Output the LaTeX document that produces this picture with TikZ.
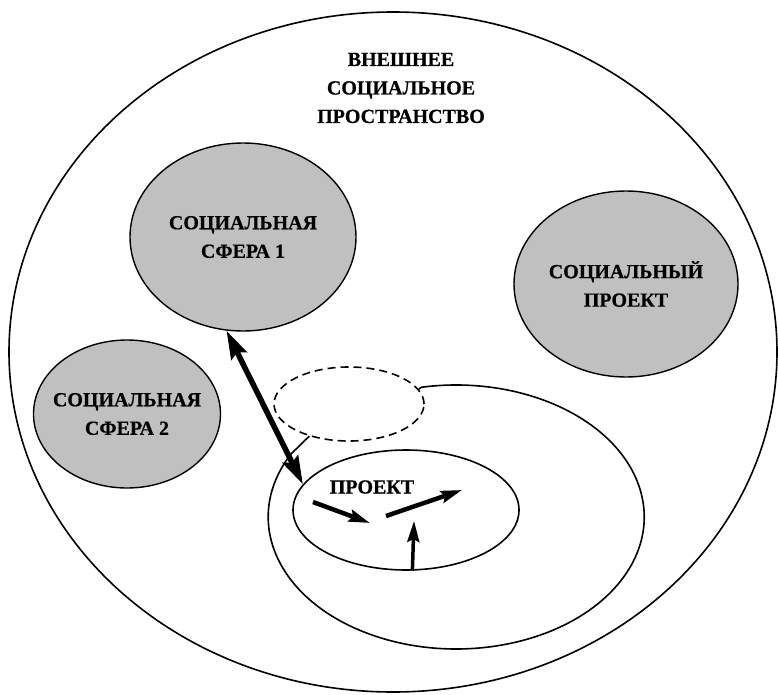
\documentclass[tikz,border=0pt]{standalone}
\usepackage{fontspec}
\setmainfont{Liberation Serif}[BoldFeatures={FakeBold=0.6}]
\usetikzlibrary{shapes.geometric,arrows.meta}
\definecolor{sphgray}{RGB}{192,192,192}
\tikzset{
  lbl/.style={ align=center, font=\fontsize{20}{28.5}\selectfont\bfseries }
}
\tikzset{
  ellGrey/.style={ draw, ellipse, fill=sphgray, line width=1.4pt, inner sep=0pt,
    label={[lbl]center:#1} }
}
\tikzset{
  ellPlain/.style={ draw, ellipse, line width=1.6pt, inner sep=0pt }
}
\tikzset{
  ellDashed/.style={ draw, ellipse, line width=1.6pt, dash pattern=on 8pt off 5pt, inner sep=0pt }
}
\tikzset{
  bigarr/.style={ line width=5.5pt,
    {Stealth[length=28pt,width=17pt,inset=4pt]}-{Stealth[length=28pt,width=17pt,inset=4pt]} }
}
\tikzset{
  smallarr/.style={ line width=4.5pt, -{Stealth[length=21pt,width=12pt,inset=3pt]} }
}

\begin{document}
\begin{tikzpicture}[x=1pt, y=-1pt]
      \useasboundingbox (0,0) rectangle (778,695);

      % outer space
      \node[ellPlain, minimum width=768pt, minimum height=680pt] (sp) at (393,352) {};
      \node[lbl] (spt) at (401,88) {ВНЕШНЕЕ\\СОЦИАЛЬНОЕ\\ПРОСТРАНСТВО};

      \node[ellGrey={СОЦИАЛЬНАЯ\\СФЕРА 1}, minimum width=226pt, minimum height=188pt] (s1) at (243,237) {};
      \node[ellGrey={СОЦИАЛЬНЫЙ\\ПРОЕКТ}, minimum width=224pt, minimum height=186pt] (sproj) at (626,284) {};
      \node[ellGrey={СОЦИАЛЬНАЯ\\СФЕРА 2}, minimum width=187pt, minimum height=148pt] (s2) at (127,414) {};

      % project and its surroundings
      \node[ellDashed, minimum width=150pt, minimum height=74pt] (ghost) at (349,404) {};
      \draw[line width=1.6pt] (ghost.219) -- (291,454)
        arc[start angle=208.5, end angle=-100.7, x radius=188, y radius=132] -- (ghost.12);
      \node[ellPlain, minimum width=226pt, minimum height=120pt] (pr) at (406,510) {};
      \node[lbl] (prt) at (372,487) {ПРОЕКТ};

      \draw[bigarr] (s1.260) -- (pr.166);

      \coordinate (a1s) at (313,502);
      \coordinate (a1e) at (370,523);
      \coordinate (a2s) at (386,516);
      \coordinate (a2e) at (462,490);
      \coordinate (a3e) at (414,521);
      \draw[smallarr] (a1s) -- (a1e);
      \draw[smallarr] (a2s) -- (a2e);
      \draw[smallarr, line width=3.5pt] (pr.-84) -- (a3e);
    \end{tikzpicture}
\end{document}
